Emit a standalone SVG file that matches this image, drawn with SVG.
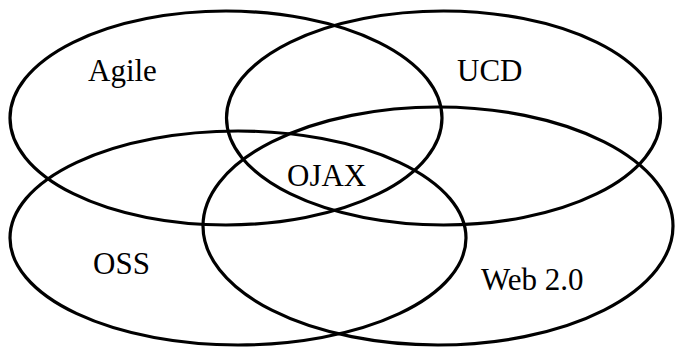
<svg xmlns="http://www.w3.org/2000/svg" width="676" height="349" viewBox="0 0 676 349">
<style>
.set{fill:none;stroke:#000;stroke-width:3.2}
.lbl{font-family:"Liberation Serif","Times New Roman",serif;font-size:31px;fill:#000}
</style>
<rect width="676" height="349" fill="#fff"/>
<g id="agile"><ellipse class="set" cx="226" cy="118" rx="216" ry="107"/><text class="lbl" x="88" y="81">Agile</text></g>
<g id="ucd"><ellipse class="set" cx="443.5" cy="118" rx="217" ry="107"/><text class="lbl" x="457" y="81">UCD</text></g>
<g id="oss"><ellipse class="set" cx="238" cy="238" rx="228" ry="107"/><text class="lbl" x="93" y="274">OSS</text></g>
<g id="web20"><ellipse class="set" cx="438" cy="226" rx="235" ry="119"/><text class="lbl" x="481" y="290">Web 2.0</text></g>
<g id="ojax"><text class="lbl" x="287" y="186">OJAX</text></g>
<g id="connectors"></g>
</svg>
